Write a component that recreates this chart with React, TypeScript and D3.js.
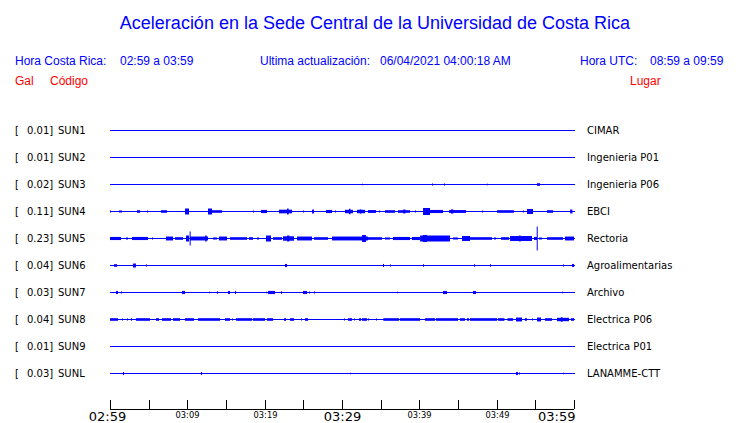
import React from "react";
import * as d3 from "d3";

// ---------- DATA ----------
const title = "Aceleración en la Sede Central de la Universidad de Costa Rica";
const stationCodes = ["SUN1", "SUN2", "SUN3", "SUN4", "SUN5", "SUN6", "SUN7", "SUN8", "SUN9", "SUNL"];
const stationPeaks = [0.01, 0.01, 0.02, 0.11, 0.23, 0.04, 0.03, 0.04, 0.01, 0.03];
const stationPlaces = ["CIMAR", "Ingenieria P01", "Ingenieria P06", "EBCI", "Rectoria", "Agroalimentarias", "Archivo", "Electrica P06", "Electrica P01", "LANAMME-CTT"];

// minutes after 02:59 at which ticks are drawn, and their labels
const tickMinutes = [0, 5, 10, 15, 20, 25, 30, 35, 40, 45, 50, 55, 60];
const tickLabels = ["02:59", "", "03:09", "", "03:19", "", "03:29", "", "03:39", "", "03:49", "", "03:59"];
const majorLabels = ["02:59", "03:29", "03:59"];

// bursts of shaking: [start minute, end minute, normalized amplitude]
const sun1: number[][] = [];
const sun2: number[][] = [];
const sun3 = [[32.59, 32.62, 0.06], [41.64, 41.67, 0.08], [43.19, 43.22, 0.08], [48.75, 48.78, 0.06], [55.22, 55.6, 0.1]];
const sun4 = [
  [0, 0.05, 0.08], [1.16, 1.55, 0.08], [3.49, 3.88, 0.1], [4.78, 4.81, 0.08], [6.6, 7.37, 0.1],
  [9.7, 10.22, 0.23], [12.67, 13.19, 0.23], [13.19, 14.48, 0.1], [18.49, 18.52, 0.08], [19.53, 20.3, 0.12],
  [21.85, 23.54, 0.14], [22.9, 23.1, 0.23], [24.96, 25.0, 0.08], [26.12, 26.38, 0.15], [27.93, 28.71, 0.12],
  [29.1, 29.13, 0.08], [30.39, 31.42, 0.13], [30.9, 31.1, 0.21], [31.94, 32.98, 0.13], [32.3, 32.5, 0.16],
  [33.36, 34.4, 0.11], [34.79, 34.82, 0.08], [35.56, 36.85, 0.1], [37.24, 38.79, 0.1], [37.9, 38.2, 0.15],
  [39.44, 39.47, 0.08], [40.48, 41.38, 0.27], [41.38, 43.06, 0.12], [43.84, 46.04, 0.11], [44.1, 44.4, 0.16],
  [48.11, 48.14, 0.08], [50.05, 52.24, 0.1], [53.41, 53.5, 0.08], [53.92, 54.7, 0.19], [56.51, 57.29, 0.1],
  [59.5, 59.8, 0.15],
];
const sun5 = [
  [0, 1.42, 0.12], [2.07, 2.33, 0.08], [2.84, 4.91, 0.12], [5.43, 5.46, 0.08], [7.24, 8.15, 0.15],
  [8.41, 9.44, 0.1], [9.83, 10.22, 0.23], [10.3, 10.4, 0.54], [10.35, 12.67, 0.15], [12.3, 12.5, 0.23],
  [13.32, 13.84, 0.08], [14.09, 15.13, 0.15], [15.52, 17.72, 0.1], [17.98, 18.49, 0.1], [19.01, 19.27, 0.08],
  [20.17, 20.82, 0.23], [21.08, 22.24, 0.1], [22.37, 23.8, 0.17], [22.9, 23.2, 0.23], [24.18, 26.12, 0.15],
  [26.38, 28.19, 0.1], [28.71, 33.36, 0.15], [32.6, 33.1, 0.27], [33.36, 35.17, 0.1], [35.56, 36.2, 0.08],
  [36.59, 38.79, 0.12], [39.05, 40.1, 0.12], [40.1, 43.97, 0.23], [40.48, 40.99, 0.27], [44.36, 45.0, 0.08],
  [45.52, 46.55, 0.19], [46.55, 49.4, 0.1], [49.66, 49.92, 0.08], [50.57, 51.6, 0.1], [51.73, 54.57, 0.19],
  [52.9, 53.1, 0.23], [54.83, 55.22, 0.12], [55.18, 55.26, 0.92], [55.48, 55.87, 0.08], [56.51, 58.58, 0.1],
  [58.84, 60, 0.15],
];
const sun6 = [
  [0.52, 0.91, 0.1], [2.97, 3.36, 0.15], [4.65, 4.68, 0.08], [22.63, 22.89, 0.12], [35.3, 35.33, 0.12],
  [36.2, 36.23, 0.08], [40.48, 40.51, 0.1], [47.08, 47.11, 0.1], [49.14, 49.17, 0.1], [58.58, 58.61, 0.08],
  [59.74, 60, 0.12],
];
const sun7 = [
  [0.78, 1.03, 0.12], [1.42, 1.45, 0.08], [9.31, 9.7, 0.12], [12.8, 12.83, 0.06], [13.84, 13.9, 0.1],
  [15.26, 15.52, 0.12], [16.17, 16.3, 0.12], [20.17, 20.2, 0.06], [20.43, 21.34, 0.12], [22.11, 22.15, 0.1],
  [24.96, 25.48, 0.12], [25.74, 25.77, 0.08], [26.38, 26.41, 0.08], [37.1, 37.13, 0.06], [43.06, 43.58, 0.12],
  [46.94, 47.33, 0.12], [58.45, 58.48, 0.06],
];
const sun8 = [
  [0, 1.03, 0.1], [1.55, 1.58, 0.08], [2.2, 2.23, 0.08], [2.71, 2.84, 0.1], [3.36, 5.17, 0.1],
  [5.95, 6.34, 0.1], [6.72, 7.89, 0.1], [8.15, 9.05, 0.1], [9.7, 10.86, 0.1], [11.38, 14.22, 0.1],
  [14.87, 15.52, 0.1], [15.78, 15.81, 0.08], [16.3, 18.36, 0.1], [18.49, 20.04, 0.1], [20.3, 21.08, 0.1],
  [22.5, 22.76, 0.1], [23.28, 23.8, 0.1], [24.7, 24.73, 0.08], [25.22, 25.61, 0.1], [30.26, 30.29, 0.08],
  [30.78, 31.29, 0.1], [31.55, 31.58, 0.08], [32.2, 32.46, 0.1], [32.59, 33.23, 0.1], [33.36, 33.39, 0.08],
  [34.4, 34.43, 0.08], [35.3, 35.33, 0.08], [35.43, 37.37, 0.1], [37.5, 40.1, 0.1], [40.74, 42.03, 0.1],
  [42.16, 45.0, 0.1], [45.26, 45.91, 0.1], [46.17, 46.42, 0.1], [46.55, 50.05, 0.1], [50.18, 51.0, 0.1],
  [51.4, 52.11, 0.1], [52.5, 53.28, 0.15], [53.66, 53.92, 0.1], [54.57, 54.6, 0.08], [55.22, 55.73, 0.15],
  [56.25, 57.16, 0.1], [57.8, 59.35, 0.13], [58.3, 58.5, 0.17], [59.61, 60, 0.1],
];
const sun9: number[][] = [];
const sunl = [[1.68, 1.71, 0.12], [11.77, 11.8, 0.12], [31.04, 31.07, 0.06], [52.5, 52.76, 0.12], [52.89, 52.92, 0.08], [58.58, 58.61, 0.06]];
const stationBursts = [sun1, sun2, sun3, sun4, sun5, sun6, sun7, sun8, sun9, sunl];

// ---------- CHART ----------
const W = 740;
const H = 423;
const BLUE = "#0000ff";
const RED = "#ff0000";
const HEAD = "'Liberation Sans', Arial, sans-serif";
const LAB = "'DejaVu Sans', sans-serif";

export default function App() {
  const x = d3.scaleLinear().domain([0, 60]).range([110, 574]);
  const row = d3.scalePoint<string>().domain(stationCodes).range([130, 373]);
  const amp = d3.scaleLinear().domain([0, 1]).range([0, 13]);
  const axisY = 409;

  return (
    <svg width={W} height={H} style={{ position: "absolute", left: 0, top: 0, background: "#fff" }}>
      <text x={375} y={29} textAnchor="middle" fill={BLUE} fontFamily={HEAD} fontSize={18}>{title}</text>

      <g fontFamily={HEAD} fontSize={12} fill={BLUE}>
        <text x={15} y={65}>Hora Costa Rica:</text>
        <text x={120} y={65}>02:59 a 03:59</text>
        <text x={260} y={65}>Ultima actualización:</text>
        <text x={380} y={65}>06/04/2021 04:00:18 AM</text>
        <text x={580} y={65}>Hora UTC:</text>
        <text x={650} y={65}>08:59 a 09:59</text>
      </g>
      <g fontFamily={HEAD} fontSize={12} fill={RED}>
        <text x={15} y={85}>Gal</text>
        <text x={50} y={85}>Código</text>
        <text x={630} y={85}>Lugar</text>
      </g>

      {stationCodes.map((code, i) => {
        const y = row(code)!;
        return (
          <g key={code}>
            <text x={15} y={y + 4} fontFamily={LAB} fontSize={10} fill="#000">[</text>
            <text x={27} y={y + 4} fontFamily={LAB} fontSize={10} fill="#000">{stationPeaks[i].toFixed(2)}]</text>
            <text x={58} y={y + 4} fontFamily={LAB} fontSize={10} fill="#000">{code}</text>
            <text x={587} y={y + 4} fontFamily={LAB} fontSize={10} fill="#000">{stationPlaces[i]}</text>
            <line x1={x(0)} x2={x(60) + 1} y1={y + 0.5} y2={y + 0.5} stroke={BLUE} strokeWidth={1.2} />
            {stationBursts[i].map((b, j) => {
              const x0 = x(b[0]);
              const w = Math.max(1, x(b[1]) - x0);
              const h = amp(b[2]);
              return <rect key={j} x={x0} y={y + 0.5 - h} width={w} height={2 * h} fill={BLUE} />;
            })}
          </g>
        );
      })}

      <line x1={x(0)} x2={x(60)} y1={axisY + 0.5} y2={axisY + 0.5} stroke="#000" strokeWidth={1} />
      {tickMinutes.map((m, i) => {
        const tx = Math.round(x(m)) + 0.5;
        const lab = tickLabels[i];
        const major = majorLabels.includes(lab);
        const last = i === tickMinutes.length - 1;
        return (
          <g key={m}>
            <line x1={tx} x2={tx} y1={400} y2={axisY} stroke="#000" strokeWidth={1} />
            {lab && (
              <text
                x={last ? tx + 1 : i === 0 ? tx - 3 : tx}
                y={major ? 421 : 418}
                textAnchor={last ? "end" : "middle"}
                fontFamily={LAB}
                fontSize={major ? 13 : 8.3}
                fill="#000"
              >
                {lab}
              </text>
            )}
          </g>
        );
      })}
    </svg>
  );
}
